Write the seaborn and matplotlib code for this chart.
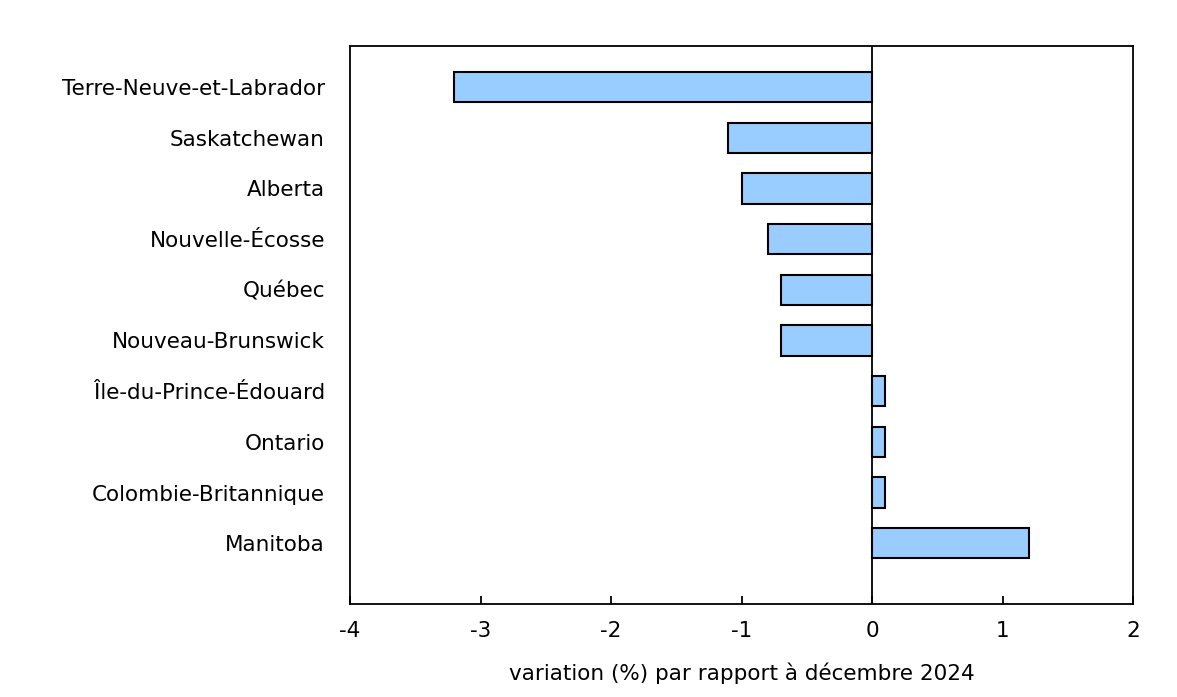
import matplotlib
matplotlib.use("Agg")
import matplotlib.pyplot as plt
import pandas as pd
import seaborn as sns

provinces = [
    "Terre-Neuve-et-Labrador",
    "Saskatchewan",
    "Alberta",
    "Nouvelle-Écosse",
    "Québec",
    "Nouveau-Brunswick",
    "Île-du-Prince-Édouard",
    "Ontario",
    "Colombie-Britannique",
    "Manitoba",
]
variation = [-3.2, -1.1, -1.0, -0.8, -0.7, -0.7, 0.1, 0.1, 0.1, 1.2]
x_ticks = [-4, -3, -2, -1, 0, 1, 2]

df = pd.DataFrame({"province": provinces, "variation": variation})

sns.set_theme(style="white")
plt.rcParams["font.family"] = ["DejaVu Sans"]
plt.rcParams["text.color"] = "black"
plt.rcParams["xtick.color"] = "black"
plt.rcParams["ytick.color"] = "black"
plt.rcParams["axes.labelcolor"] = "black"

fig = plt.figure(figsize=(11.77, 6.97), dpi=100)
ax = fig.add_axes([350 / 1177, 1 - 604 / 697, (1133 - 350) / 1177, (604 - 46) / 697])

sns.barplot(
    data=df,
    x="variation",
    y="province",
    orient="h",
    color="#99ccff",
    saturation=1,
    width=0.6,
    edgecolor="black",
    linewidth=1.5,
    ax=ax,
)

ax.axvline(0, color="black", linewidth=1.3, zorder=0.5)
ax.set_xlim(-4, 2)
ax.set_ylim(len(provinces) - 1 + 1.2, -0.81)
ax.set_xticks(x_ticks)
ax.set_xticklabels([str(t) for t in x_ticks], fontsize=15.5)
ax.tick_params(axis="x", direction="in", length=6, width=1.3, color="black",
               bottom=True, pad=12)
ax.tick_params(axis="y", left=False, labelsize=15.5, pad=12)
ax.set_ylabel("")
ax.set_xlabel("variation (%) par rapport à décembre 2024", fontsize=15.5, labelpad=16)
for s in ax.spines.values():
    s.set_color("black")
    s.set_linewidth(1.3)

fig.savefig("out.png", dpi=100)
